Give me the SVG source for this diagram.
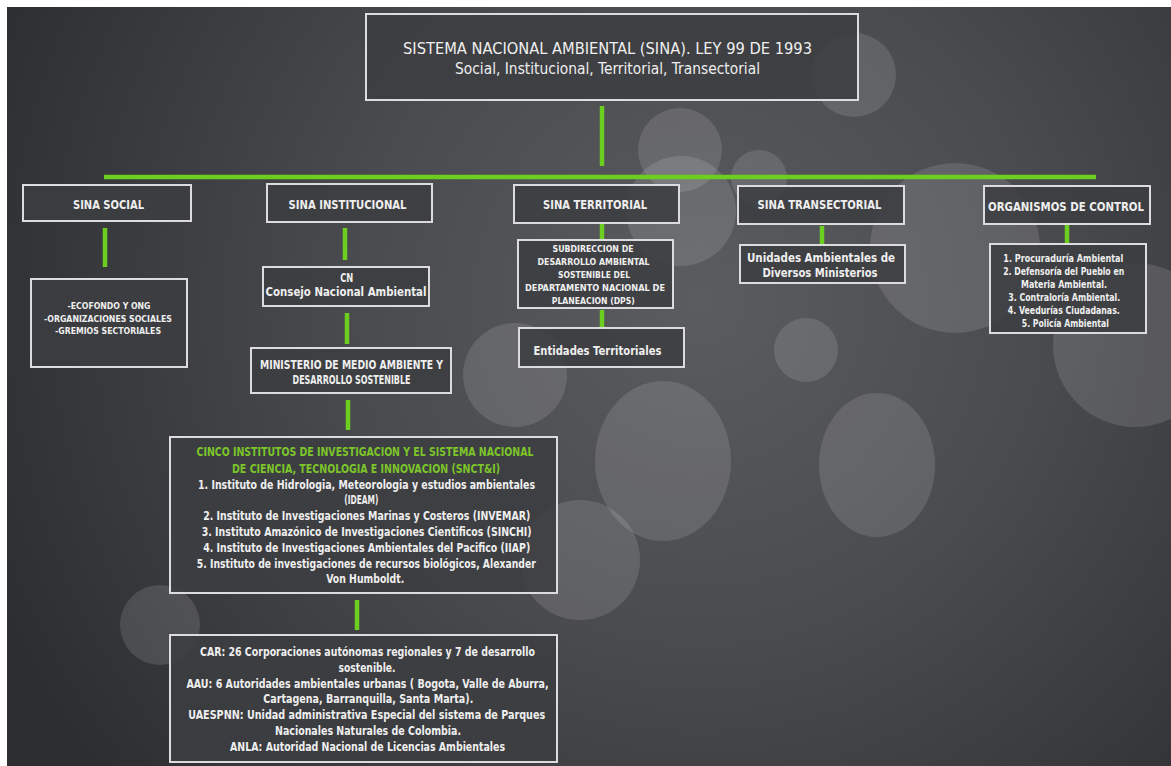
<svg xmlns="http://www.w3.org/2000/svg" width="1171" height="766" viewBox="0 0 1171 766">
<defs>
<radialGradient id="bg" cx="700" cy="300" r="760" gradientUnits="userSpaceOnUse">
<stop offset="0" stop-color="#5b5c60"/>
<stop offset="0.45" stop-color="#4a4b4f"/>
<stop offset="1" stop-color="#2d2e32"/>
</radialGradient>
<style>
.box{fill:#3c3d41;fill-opacity:0.88;stroke:#dcdcdc;stroke-width:2}
.bk{fill:#ffffff;fill-opacity:0.12}
.ln{stroke:#6ccf1f;stroke-width:4.5;fill:none}
text{font-family:"DejaVu Sans Condensed","DejaVu Sans","Liberation Sans",sans-serif;font-stretch:condensed;fill:#efefef;text-anchor:middle}
.h{font-size:13px;font-weight:bold}
.t{font-size:16px;font-weight:normal}
.s{font-size:15px;font-weight:normal}
.m{font-size:9.5px;font-weight:bold}
.n{font-size:12.5px;font-weight:bold}
.c{font-size:10px;font-weight:bold}
.g{fill:#7cc62a}
</style>
</defs>
<rect x="0" y="0" width="1171" height="766" fill="#ffffff"/>
<rect x="7" y="7" width="1164" height="759" fill="url(#bg)"/>
<g id="bokeh">
<circle class="bk" cx="854" cy="75" r="42"/>
<circle class="bk" cx="680" cy="150" r="42"/>
<circle class="bk" cx="681" cy="211" r="55"/>
<circle class="bk" cx="759" cy="178" r="28"/>
<circle class="bk" cx="955" cy="248" r="85"/>
<circle class="bk" cx="1135" cy="345" r="82"/>
<circle class="bk" cx="806" cy="350" r="32"/>
<ellipse class="bk" cx="663" cy="461" rx="68" ry="80"/>
<ellipse class="bk" cx="877" cy="465" rx="58" ry="72"/>
<circle class="bk" cx="580" cy="560" r="60"/>
<circle class="bk" cx="515" cy="375" r="52"/>
<circle class="bk" cx="160" cy="625" r="40"/>
</g>
<g id="connectors">
<line class="ln" x1="602" y1="106" x2="602" y2="166"/>
<line class="ln" x1="104" y1="177" x2="1096" y2="177"/>
<line class="ln" x1="105" y1="228" x2="105" y2="267"/>
<line class="ln" x1="345" y1="228" x2="345" y2="260"/>
<line class="ln" x1="347" y1="313" x2="347" y2="344"/>
<line class="ln" x1="348" y1="400" x2="348" y2="430"/>
<line class="ln" x1="357" y1="600" x2="357" y2="630"/>
<line class="ln" x1="602" y1="223" x2="602" y2="240"/>
<line class="ln" x1="602" y1="310" x2="602" y2="329"/>
<line class="ln" x1="822" y1="226" x2="822" y2="244"/>
<line class="ln" x1="1067" y1="225" x2="1067" y2="244"/>
</g>
<g id="sina">
<rect class="box" x="366" y="14" width="492" height="86"/>
<text class="t" x="607.5" y="54" textLength="409" lengthAdjust="spacingAndGlyphs">SISTEMA NACIONAL AMBIENTAL (SINA). LEY 99 DE 1993</text>
<text class="s" x="607.5" y="74" textLength="305" lengthAdjust="spacingAndGlyphs">Social, Institucional, Territorial, Transectorial</text>
</g>
<g id="sina-social">
<rect class="box" x="23" y="185" width="168" height="36"/>
<text class="h" x="108.5" y="208.5" textLength="71" lengthAdjust="spacingAndGlyphs">SINA SOCIAL</text>
</g>
<g id="sina-institucional">
<rect class="box" x="267" y="184" width="165" height="38"/>
<text class="h" x="347.5" y="208.5" textLength="118" lengthAdjust="spacingAndGlyphs">SINA INSTITUCIONAL</text>
</g>
<g id="sina-territorial">
<rect class="box" x="514" y="185" width="165" height="38"/>
<text class="h" x="595" y="209" textLength="104" lengthAdjust="spacingAndGlyphs">SINA TERRITORIAL</text>
</g>
<g id="sina-transectorial">
<rect class="box" x="738" y="186" width="166" height="38"/>
<text class="h" x="819.5" y="208.5" textLength="124" lengthAdjust="spacingAndGlyphs">SINA TRANSECTORIAL</text>
</g>
<g id="organismos-control">
<rect class="box" x="984" y="186" width="166" height="38"/>
<text class="h" x="1066" y="210.5" textLength="156" lengthAdjust="spacingAndGlyphs">ORGANISMOS DE CONTROL</text>
</g>
<g id="social-detalle">
<rect class="box" x="31" y="279" width="156" height="88"/>
<text class="m" x="109" y="309.3" textLength="83" lengthAdjust="spacingAndGlyphs">-ECOFONDO Y ONG</text>
<text class="m" x="108" y="321.7" textLength="128" lengthAdjust="spacingAndGlyphs">-ORGANIZACIONES SOCIALES</text>
<text class="m" x="108" y="334.3" textLength="106" lengthAdjust="spacingAndGlyphs">-GREMIOS SECTORIALES</text>
</g>
<g id="consejo">
<rect class="box" x="263" y="267" width="166" height="39"/>
<text class="n" x="346.7" y="281.7" textLength="13" lengthAdjust="spacingAndGlyphs">CN</text>
<text class="n" x="346" y="295.5" textLength="161" lengthAdjust="spacingAndGlyphs">Consejo Nacional Ambiental</text>
</g>
<g id="ministerio">
<rect class="box" x="251" y="348" width="200" height="45"/>
<text class="n" x="351.5" y="369.3" textLength="183" lengthAdjust="spacingAndGlyphs">MINISTERIO DE MEDIO AMBIENTE Y</text>
<text class="n" x="351.5" y="384" textLength="118" lengthAdjust="spacingAndGlyphs">DESARROLLO SOSTENIBLE</text>
</g>
<g id="institutos">
<rect class="box" x="170" y="437" width="387" height="156"/>
<text class="n g" x="365" y="456" textLength="337" lengthAdjust="spacingAndGlyphs">CINCO INSTITUTOS DE INVESTIGACION Y EL SISTEMA NACIONAL</text>
<text class="n g" x="366" y="472.5" textLength="268" lengthAdjust="spacingAndGlyphs">DE CIENCIA, TECNOLOGIA E INNOVACION (SNCT&amp;I)</text>
<text class="n" x="366.5" y="489.3" textLength="337" lengthAdjust="spacingAndGlyphs">1. Instituto de Hidrologia, Meteorologia y estudios ambientales</text>
<text class="n" x="361.3" y="503.5" textLength="34" lengthAdjust="spacingAndGlyphs">(IDEAM)</text>
<text class="n" x="366.7" y="520" textLength="327" lengthAdjust="spacingAndGlyphs">2. Instituto de Investigaciones Marinas y Costeros (INVEMAR)</text>
<text class="n" x="366.7" y="536" textLength="330" lengthAdjust="spacingAndGlyphs">3. Instituto Amazónico de Investigaciones Cientificos (SINCHI)</text>
<text class="n" x="366.7" y="552.3" textLength="327" lengthAdjust="spacingAndGlyphs">4. Instituto de Investigaciones Ambientales del Pacifico  (IIAP)</text>
<text class="n" x="366.3" y="567.5" textLength="339" lengthAdjust="spacingAndGlyphs">5. Instituto de investigaciones de recursos biológicos, Alexander</text>
<text class="n" x="365.2" y="583.3" textLength="78" lengthAdjust="spacingAndGlyphs">Von Humboldt.</text>
</g>
<g id="autoridades">
<rect class="box" x="170" y="635" width="387" height="127"/>
<text class="n" x="367.5" y="656" textLength="335" lengthAdjust="spacingAndGlyphs">CAR: 26 Corporaciones autónomas regionales y 7 de desarrollo</text>
<text class="n" x="367" y="671.7" textLength="57" lengthAdjust="spacingAndGlyphs">sostenible.</text>
<text class="n" x="367.5" y="688" textLength="362" lengthAdjust="spacingAndGlyphs">AAU: 6 Autoridades ambientales urbanas ( Bogota, Valle de Aburra,</text>
<text class="n" x="368.3" y="703" textLength="210" lengthAdjust="spacingAndGlyphs">Cartagena, Barranquilla, Santa Marta).</text>
<text class="n" x="366.7" y="719.3" textLength="357" lengthAdjust="spacingAndGlyphs">UAESPNN: Unidad administrativa Especial del sistema de Parques</text>
<text class="n" x="368" y="735" textLength="186" lengthAdjust="spacingAndGlyphs">Nacionales Naturales de Colombia.</text>
<text class="n" x="367.5" y="750.7" textLength="275" lengthAdjust="spacingAndGlyphs">ANLA: Autoridad Nacional de Licencias Ambientales</text>
</g>
<g id="subdireccion">
<rect class="box" x="518" y="240" width="155" height="68"/>
<text class="m" x="593" y="252" textLength="81" lengthAdjust="spacingAndGlyphs">SUBDIRECCION DE</text>
<text class="m" x="593.5" y="265" textLength="112" lengthAdjust="spacingAndGlyphs">DESARROLLO AMBIENTAL</text>
<text class="m" x="594" y="278" textLength="72" lengthAdjust="spacingAndGlyphs">SOSTENIBLE DEL</text>
<text class="m" x="595" y="291" textLength="140" lengthAdjust="spacingAndGlyphs">DEPARTAMENTO NACIONAL DE</text>
<text class="m" x="593.3" y="304" textLength="83" lengthAdjust="spacingAndGlyphs">PLANEACION (DPS)</text>
</g>
<g id="entidades">
<rect class="box" x="519" y="328" width="165" height="39"/>
<text class="n" x="597.5" y="355" textLength="128" lengthAdjust="spacingAndGlyphs">Entidades Territoriales</text>
</g>
<g id="unidades">
<rect class="box" x="740" y="245" width="165" height="38"/>
<text class="n" x="821" y="261.5" textLength="148" lengthAdjust="spacingAndGlyphs">Unidades Ambientales de</text>
<text class="n" x="820" y="276.5" textLength="115" lengthAdjust="spacingAndGlyphs">Diversos Ministerios</text>
</g>
<g id="control-detalle">
<rect class="box" x="990" y="244" width="156" height="89"/>
<text class="c" x="1063.3" y="261.7" textLength="120" lengthAdjust="spacingAndGlyphs">1. Procuraduría Ambiental</text>
<text class="c" x="1063.7" y="275" textLength="121" lengthAdjust="spacingAndGlyphs">2. Defensoría del Pueblo en</text>
<text class="c" x="1064" y="287.7" textLength="86" lengthAdjust="spacingAndGlyphs">Materia Ambiental.</text>
<text class="c" x="1064.2" y="300.7" textLength="112" lengthAdjust="spacingAndGlyphs">3. Contraloría Ambiental.</text>
<text class="c" x="1063.8" y="313.5" textLength="112" lengthAdjust="spacingAndGlyphs">4. Veedurías Ciudadanas.</text>
<text class="c" x="1065.3" y="326.7" textLength="87" lengthAdjust="spacingAndGlyphs">5. Policía Ambiental</text>
</g>
</svg>
